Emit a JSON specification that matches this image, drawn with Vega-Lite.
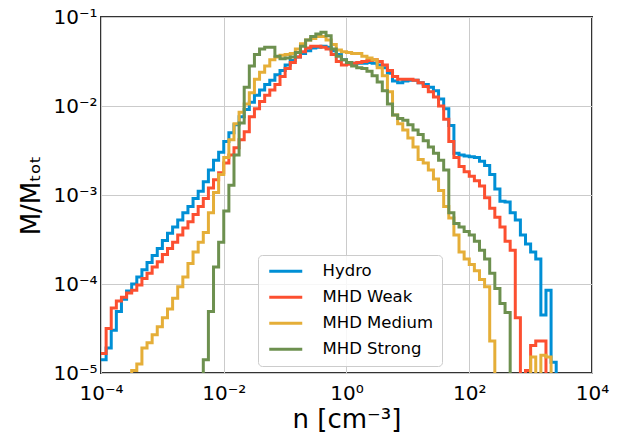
{
"$schema":"https://vega.github.io/schema/vega-lite/v6.json",
"width":491,"height":356,
"autosize":"none",
"padding":{"left":101,"top":17,"right":43,"bottom":66},
"background":"white",
"config":{
 "view":{"stroke":"#333333","strokeWidth":2},
 "axis":{"labelFont":"DejaVu Sans","titleFont":"DejaVu Sans","labelColor":"#000000","titleColor":"#000000","labelFontSize":20,"titleFontSize":26,"titleFontWeight":"normal","ticks":false,"domain":false,"grid":true,"gridColor":"#cbcbcb","gridWidth":1,"labelBound":false,"labelFlush":false,"labelOverlap":false}
},
"data":{"values":[
{"s":"Hydro","x":1e-4,"y":1.41e-5},{"s":"Hydro","x":1.212e-4,"y":1.91e-5},{"s":"Hydro","x":1.468e-4,"y":3.02e-5},{"s":"Hydro","x":1.778e-4,"y":4.90e-5},{"s":"Hydro","x":2.154e-4,"y":6.76e-5},{"s":"Hydro","x":2.61e-4,"y":8.32e-5},{"s":"Hydro","x":3.162e-4,"y":1.0e-4},{"s":"Hydro","x":3.831e-4,"y":1.20e-4},{"s":"Hydro","x":4.642e-4,"y":1.45e-4},{"s":"Hydro","x":5.623e-4,"y":1.74e-4},{"s":"Hydro","x":6.813e-4,"y":2.09e-4},{"s":"Hydro","x":8.254e-4,"y":2.51e-4},
{"s":"Hydro","x":1e-3,"y":3.09e-4},{"s":"Hydro","x":1.212e-3,"y":3.72e-4},{"s":"Hydro","x":1.468e-3,"y":4.37e-4},{"s":"Hydro","x":1.778e-3,"y":5.25e-4},{"s":"Hydro","x":2.154e-3,"y":6.31e-4},{"s":"Hydro","x":2.61e-3,"y":7.41e-4},{"s":"Hydro","x":3.162e-3,"y":9.12e-4},{"s":"Hydro","x":3.831e-3,"y":1.10e-3},{"s":"Hydro","x":4.642e-3,"y":1.41e-3},{"s":"Hydro","x":5.623e-3,"y":1.91e-3},{"s":"Hydro","x":6.813e-3,"y":2.45e-3},{"s":"Hydro","x":8.254e-3,"y":3.02e-3},
{"s":"Hydro","x":0.01,"y":3.98e-3},{"s":"Hydro","x":0.01212,"y":5.01e-3},{"s":"Hydro","x":0.01468,"y":6.17e-3},{"s":"Hydro","x":0.01778,"y":7.59e-3},{"s":"Hydro","x":0.02154,"y":9.12e-3},{"s":"Hydro","x":0.0261,"y":1.10e-2},{"s":"Hydro","x":0.03162,"y":1.32e-2},{"s":"Hydro","x":0.03831,"y":1.51e-2},{"s":"Hydro","x":0.04642,"y":1.74e-2},{"s":"Hydro","x":0.05623,"y":1.95e-2},{"s":"Hydro","x":0.06813,"y":2.24e-2},{"s":"Hydro","x":0.08254,"y":2.51e-2},
{"s":"Hydro","x":0.1,"y":2.88e-2},{"s":"Hydro","x":0.1212,"y":3.24e-2},{"s":"Hydro","x":0.1468,"y":3.55e-2},{"s":"Hydro","x":0.1778,"y":3.89e-2},{"s":"Hydro","x":0.2154,"y":4.17e-2},{"s":"Hydro","x":0.261,"y":4.47e-2},{"s":"Hydro","x":0.3162,"y":4.57e-2},{"s":"Hydro","x":0.3831,"y":4.68e-2},{"s":"Hydro","x":0.4642,"y":4.57e-2},{"s":"Hydro","x":0.5623,"y":4.17e-2},{"s":"Hydro","x":0.6813,"y":3.80e-2},{"s":"Hydro","x":0.8254,"y":3.31e-2},
{"s":"Hydro","x":1,"y":3.09e-2},{"s":"Hydro","x":1.212,"y":3.02e-2},{"s":"Hydro","x":1.468,"y":3.02e-2},{"s":"Hydro","x":1.778,"y":3.02e-2},{"s":"Hydro","x":2.154,"y":3.09e-2},{"s":"Hydro","x":2.61,"y":3.02e-2},{"s":"Hydro","x":3.162,"y":2.88e-2},{"s":"Hydro","x":3.831,"y":2.69e-2},{"s":"Hydro","x":4.642,"y":2.34e-2},{"s":"Hydro","x":5.623,"y":1.91e-2},{"s":"Hydro","x":6.813,"y":1.82e-2},{"s":"Hydro","x":8.254,"y":1.91e-2},
{"s":"Hydro","x":10,"y":1.95e-2},{"s":"Hydro","x":12.12,"y":1.95e-2},{"s":"Hydro","x":14.68,"y":1.82e-2},{"s":"Hydro","x":17.78,"y":1.74e-2},{"s":"Hydro","x":21.54,"y":1.62e-2},{"s":"Hydro","x":26.1,"y":1.48e-2},{"s":"Hydro","x":31.62,"y":1.20e-2},{"s":"Hydro","x":38.31,"y":9.33e-3},{"s":"Hydro","x":46.42,"y":6.03e-3},{"s":"Hydro","x":56.23,"y":2.95e-3},{"s":"Hydro","x":68.13,"y":2.82e-3},{"s":"Hydro","x":82.54,"y":2.75e-3},
{"s":"Hydro","x":100,"y":2.69e-3},{"s":"Hydro","x":121.2,"y":2.63e-3},{"s":"Hydro","x":146.8,"y":2.40e-3},{"s":"Hydro","x":177.8,"y":2.14e-3},{"s":"Hydro","x":215.4,"y":1.70e-3},{"s":"Hydro","x":261,"y":1.17e-3},{"s":"Hydro","x":316.2,"y":8.51e-4},{"s":"Hydro","x":383.1,"y":8.32e-4},{"s":"Hydro","x":464.2,"y":6.31e-4},{"s":"Hydro","x":562.3,"y":5.25e-4},{"s":"Hydro","x":681.3,"y":3.55e-4},{"s":"Hydro","x":825.4,"y":2.82e-4},
{"s":"Hydro","x":1000,"y":2.29e-4},{"s":"Hydro","x":1212,"y":1.91e-4},{"s":"Hydro","x":1468,"y":4.47e-5},{"s":"Hydro","x":1778,"y":8.51e-5},{"s":"Hydro","x":2154,"y":1.32e-5},{"s":"Hydro","x":2610,"y":1e-6},

{"s":"MHD Weak","x":1e-4,"y":1.66e-5},{"s":"MHD Weak","x":1.212e-4,"y":3.16e-5},{"s":"MHD Weak","x":1.468e-4,"y":5.37e-5},{"s":"MHD Weak","x":1.778e-4,"y":6.46e-5},{"s":"MHD Weak","x":2.154e-4,"y":7.08e-5},{"s":"MHD Weak","x":2.61e-4,"y":7.94e-5},{"s":"MHD Weak","x":3.162e-4,"y":8.51e-5},{"s":"MHD Weak","x":3.831e-4,"y":9.77e-5},{"s":"MHD Weak","x":4.642e-4,"y":1.15e-4},{"s":"MHD Weak","x":5.623e-4,"y":1.32e-4},{"s":"MHD Weak","x":6.813e-4,"y":1.55e-4},{"s":"MHD Weak","x":8.254e-4,"y":1.78e-4},
{"s":"MHD Weak","x":1e-3,"y":2.14e-4},{"s":"MHD Weak","x":1.212e-3,"y":2.51e-4},{"s":"MHD Weak","x":1.468e-3,"y":2.95e-4},{"s":"MHD Weak","x":1.778e-3,"y":3.55e-4},{"s":"MHD Weak","x":2.154e-3,"y":4.27e-4},{"s":"MHD Weak","x":2.61e-3,"y":5.01e-4},{"s":"MHD Weak","x":3.162e-3,"y":6.03e-4},{"s":"MHD Weak","x":3.831e-3,"y":7.41e-4},{"s":"MHD Weak","x":4.642e-3,"y":9.12e-4},{"s":"MHD Weak","x":5.623e-3,"y":1.20e-3},{"s":"MHD Weak","x":6.813e-3,"y":1.48e-3},{"s":"MHD Weak","x":8.254e-3,"y":1.78e-3},
{"s":"MHD Weak","x":0.01,"y":2.29e-3},{"s":"MHD Weak","x":0.01212,"y":2.82e-3},{"s":"MHD Weak","x":0.01468,"y":3.39e-3},{"s":"MHD Weak","x":0.01778,"y":4.17e-3},{"s":"MHD Weak","x":0.02154,"y":5.13e-3},{"s":"MHD Weak","x":0.0261,"y":7.59e-3},{"s":"MHD Weak","x":0.03162,"y":9.33e-3},{"s":"MHD Weak","x":0.03831,"y":1.12e-2},{"s":"MHD Weak","x":0.04642,"y":1.32e-2},{"s":"MHD Weak","x":0.05623,"y":1.51e-2},{"s":"MHD Weak","x":0.06813,"y":1.74e-2},{"s":"MHD Weak","x":0.08254,"y":2.14e-2},
{"s":"MHD Weak","x":0.1,"y":2.63e-2},{"s":"MHD Weak","x":0.1212,"y":3.09e-2},{"s":"MHD Weak","x":0.1468,"y":3.55e-2},{"s":"MHD Weak","x":0.1778,"y":4.07e-2},{"s":"MHD Weak","x":0.2154,"y":4.47e-2},{"s":"MHD Weak","x":0.261,"y":4.68e-2},{"s":"MHD Weak","x":0.3162,"y":4.68e-2},{"s":"MHD Weak","x":0.3831,"y":4.57e-2},{"s":"MHD Weak","x":0.4642,"y":4.37e-2},{"s":"MHD Weak","x":0.5623,"y":3.80e-2},{"s":"MHD Weak","x":0.6813,"y":3.16e-2},{"s":"MHD Weak","x":0.8254,"y":2.88e-2},
{"s":"MHD Weak","x":1,"y":2.95e-2},{"s":"MHD Weak","x":1.212,"y":3.02e-2},{"s":"MHD Weak","x":1.468,"y":3.09e-2},{"s":"MHD Weak","x":1.778,"y":3.16e-2},{"s":"MHD Weak","x":2.154,"y":3.24e-2},{"s":"MHD Weak","x":2.61,"y":3.31e-2},{"s":"MHD Weak","x":3.162,"y":3.16e-2},{"s":"MHD Weak","x":3.831,"y":2.88e-2},{"s":"MHD Weak","x":4.642,"y":2.51e-2},{"s":"MHD Weak","x":5.623,"y":2.14e-2},{"s":"MHD Weak","x":6.813,"y":2.00e-2},{"s":"MHD Weak","x":8.254,"y":2.00e-2},
{"s":"MHD Weak","x":10,"y":2.00e-2},{"s":"MHD Weak","x":12.12,"y":1.95e-2},{"s":"MHD Weak","x":14.68,"y":1.82e-2},{"s":"MHD Weak","x":17.78,"y":1.66e-2},{"s":"MHD Weak","x":21.54,"y":1.45e-2},{"s":"MHD Weak","x":26.1,"y":1.26e-2},{"s":"MHD Weak","x":31.62,"y":1.00e-2},{"s":"MHD Weak","x":38.31,"y":7.08e-3},{"s":"MHD Weak","x":46.42,"y":3.98e-3},{"s":"MHD Weak","x":56.23,"y":2.63e-3},{"s":"MHD Weak","x":68.13,"y":2.09e-3},{"s":"MHD Weak","x":82.54,"y":1.82e-3},
{"s":"MHD Weak","x":100,"y":1.62e-3},{"s":"MHD Weak","x":121.2,"y":1.45e-3},{"s":"MHD Weak","x":146.8,"y":1.26e-3},{"s":"MHD Weak","x":177.8,"y":9.33e-4},{"s":"MHD Weak","x":215.4,"y":7.08e-4},{"s":"MHD Weak","x":261,"y":5.62e-4},{"s":"MHD Weak","x":316.2,"y":4.37e-4},{"s":"MHD Weak","x":383.1,"y":3.02e-4},{"s":"MHD Weak","x":464.2,"y":2.40e-4},{"s":"MHD Weak","x":562.3,"y":4.17e-5},{"s":"MHD Weak","x":681.3,"y":1e-6},{"s":"MHD Weak","x":825.4,"y":1.07e-5},
{"s":"MHD Weak","x":1000,"y":2.04e-5},{"s":"MHD Weak","x":1212,"y":2.29e-5},{"s":"MHD Weak","x":1468,"y":2.29e-5},{"s":"MHD Weak","x":1778,"y":1e-6},

{"s":"MHD Medium","x":2.61e-4,"y":1e-6},{"s":"MHD Medium","x":3.162e-4,"y":1.07e-5},{"s":"MHD Medium","x":3.831e-4,"y":1.26e-5},{"s":"MHD Medium","x":4.642e-4,"y":1.91e-5},{"s":"MHD Medium","x":5.623e-4,"y":2.19e-5},{"s":"MHD Medium","x":6.813e-4,"y":2.69e-5},{"s":"MHD Medium","x":8.254e-4,"y":3.31e-5},
{"s":"MHD Medium","x":1e-3,"y":4.17e-5},{"s":"MHD Medium","x":1.212e-3,"y":5.25e-5},{"s":"MHD Medium","x":1.468e-3,"y":6.92e-5},{"s":"MHD Medium","x":1.778e-3,"y":9.33e-5},{"s":"MHD Medium","x":2.154e-3,"y":1.20e-4},{"s":"MHD Medium","x":2.61e-3,"y":1.70e-4},{"s":"MHD Medium","x":3.162e-3,"y":2.29e-4},{"s":"MHD Medium","x":3.831e-3,"y":2.95e-4},{"s":"MHD Medium","x":4.642e-3,"y":3.80e-4},{"s":"MHD Medium","x":5.623e-3,"y":6.31e-4},{"s":"MHD Medium","x":6.813e-3,"y":1.07e-3},{"s":"MHD Medium","x":8.254e-3,"y":1.70e-3},
{"s":"MHD Medium","x":0.01,"y":2.63e-3},{"s":"MHD Medium","x":0.01212,"y":4.17e-3},{"s":"MHD Medium","x":0.01468,"y":6.31e-3},{"s":"MHD Medium","x":0.01778,"y":8.51e-3},{"s":"MHD Medium","x":0.02154,"y":1.05e-2},{"s":"MHD Medium","x":0.0261,"y":1.41e-2},{"s":"MHD Medium","x":0.03162,"y":2.00e-2},{"s":"MHD Medium","x":0.03831,"y":2.40e-2},{"s":"MHD Medium","x":0.04642,"y":2.82e-2},{"s":"MHD Medium","x":0.05623,"y":3.31e-2},{"s":"MHD Medium","x":0.06813,"y":3.55e-2},{"s":"MHD Medium","x":0.08254,"y":3.72e-2},
{"s":"MHD Medium","x":0.1,"y":3.80e-2},{"s":"MHD Medium","x":0.1212,"y":3.89e-2},{"s":"MHD Medium","x":0.1468,"y":4.37e-2},{"s":"MHD Medium","x":0.1778,"y":5.01e-2},{"s":"MHD Medium","x":0.2154,"y":5.50e-2},{"s":"MHD Medium","x":0.261,"y":5.75e-2},{"s":"MHD Medium","x":0.3162,"y":6.03e-2},{"s":"MHD Medium","x":0.3831,"y":6.03e-2},{"s":"MHD Medium","x":0.4642,"y":5.50e-2},{"s":"MHD Medium","x":0.5623,"y":4.90e-2},{"s":"MHD Medium","x":0.6813,"y":4.27e-2},{"s":"MHD Medium","x":0.8254,"y":4.07e-2},
{"s":"MHD Medium","x":1,"y":3.98e-2},{"s":"MHD Medium","x":1.212,"y":3.89e-2},{"s":"MHD Medium","x":1.468,"y":3.89e-2},{"s":"MHD Medium","x":1.778,"y":3.63e-2},{"s":"MHD Medium","x":2.154,"y":3.47e-2},{"s":"MHD Medium","x":2.61,"y":3.31e-2},{"s":"MHD Medium","x":3.162,"y":2.69e-2},{"s":"MHD Medium","x":3.831,"y":2.19e-2},{"s":"MHD Medium","x":4.642,"y":1.45e-2},{"s":"MHD Medium","x":5.623,"y":7.94e-3},{"s":"MHD Medium","x":6.813,"y":6.31e-3},{"s":"MHD Medium","x":8.254,"y":5.37e-3},
{"s":"MHD Medium","x":10,"y":4.37e-3},{"s":"MHD Medium","x":12.12,"y":3.47e-3},{"s":"MHD Medium","x":14.68,"y":2.51e-3},{"s":"MHD Medium","x":17.78,"y":2.29e-3},{"s":"MHD Medium","x":21.54,"y":1.91e-3},{"s":"MHD Medium","x":26.1,"y":1.51e-3},{"s":"MHD Medium","x":31.62,"y":1.12e-3},{"s":"MHD Medium","x":38.31,"y":7.41e-4},{"s":"MHD Medium","x":46.42,"y":5.50e-4},{"s":"MHD Medium","x":56.23,"y":3.55e-4},{"s":"MHD Medium","x":68.13,"y":2.29e-4},{"s":"MHD Medium","x":82.54,"y":1.91e-4},
{"s":"MHD Medium","x":100,"y":1.66e-4},{"s":"MHD Medium","x":121.2,"y":1.41e-4},{"s":"MHD Medium","x":146.8,"y":1.12e-4},{"s":"MHD Medium","x":177.8,"y":9.33e-5},{"s":"MHD Medium","x":215.4,"y":2.29e-5},{"s":"MHD Medium","x":261,"y":1e-6},
{"s":"MHD Medium","x":1000,"y":1.51e-5},{"s":"MHD Medium","x":1212,"y":1e-6},{"s":"MHD Medium","x":1468,"y":1.58e-5},{"s":"MHD Medium","x":1778,"y":1.51e-5},{"s":"MHD Medium","x":2154,"y":1e-6},

{"s":"MHD Strong","x":3.831e-3,"y":1e-6},{"s":"MHD Strong","x":4.642e-3,"y":1.41e-5},{"s":"MHD Strong","x":5.623e-3,"y":4.90e-5},{"s":"MHD Strong","x":6.813e-3,"y":1.55e-4},{"s":"MHD Strong","x":8.254e-3,"y":2.95e-4},
{"s":"MHD Strong","x":0.01,"y":6.61e-4},{"s":"MHD Strong","x":0.01212,"y":1.29e-3},{"s":"MHD Strong","x":0.01468,"y":2.82e-3},{"s":"MHD Strong","x":0.01778,"y":6.46e-3},{"s":"MHD Strong","x":0.02154,"y":1.62e-2},{"s":"MHD Strong","x":0.0261,"y":2.82e-2},{"s":"MHD Strong","x":0.03162,"y":3.80e-2},{"s":"MHD Strong","x":0.03831,"y":4.37e-2},{"s":"MHD Strong","x":0.04642,"y":4.57e-2},{"s":"MHD Strong","x":0.05623,"y":4.57e-2},{"s":"MHD Strong","x":0.06813,"y":3.63e-2},{"s":"MHD Strong","x":0.08254,"y":3.39e-2},
{"s":"MHD Strong","x":0.1,"y":3.47e-2},{"s":"MHD Strong","x":0.1212,"y":3.55e-2},{"s":"MHD Strong","x":0.1468,"y":3.98e-2},{"s":"MHD Strong","x":0.1778,"y":4.68e-2},{"s":"MHD Strong","x":0.2154,"y":5.50e-2},{"s":"MHD Strong","x":0.261,"y":6.03e-2},{"s":"MHD Strong","x":0.3162,"y":6.46e-2},{"s":"MHD Strong","x":0.3831,"y":6.76e-2},{"s":"MHD Strong","x":0.4642,"y":6.17e-2},{"s":"MHD Strong","x":0.5623,"y":4.37e-2},{"s":"MHD Strong","x":0.6813,"y":3.63e-2},{"s":"MHD Strong","x":0.8254,"y":3.31e-2},
{"s":"MHD Strong","x":1,"y":3.09e-2},{"s":"MHD Strong","x":1.212,"y":2.82e-2},{"s":"MHD Strong","x":1.468,"y":2.69e-2},{"s":"MHD Strong","x":1.778,"y":2.63e-2},{"s":"MHD Strong","x":2.154,"y":2.45e-2},{"s":"MHD Strong","x":2.61,"y":2.19e-2},{"s":"MHD Strong","x":3.162,"y":1.86e-2},{"s":"MHD Strong","x":3.831,"y":1.48e-2},{"s":"MHD Strong","x":4.642,"y":1.05e-2},{"s":"MHD Strong","x":5.623,"y":7.94e-3},{"s":"MHD Strong","x":6.813,"y":7.24e-3},{"s":"MHD Strong","x":8.254,"y":6.92e-3},
{"s":"MHD Strong","x":10,"y":6.17e-3},{"s":"MHD Strong","x":12.12,"y":5.37e-3},{"s":"MHD Strong","x":14.68,"y":4.79e-3},{"s":"MHD Strong","x":17.78,"y":4.07e-3},{"s":"MHD Strong","x":21.54,"y":3.47e-3},{"s":"MHD Strong","x":26.1,"y":2.95e-3},{"s":"MHD Strong","x":31.62,"y":2.45e-3},{"s":"MHD Strong","x":38.31,"y":1.91e-3},{"s":"MHD Strong","x":46.42,"y":6.31e-4},{"s":"MHD Strong","x":56.23,"y":4.79e-4},{"s":"MHD Strong","x":68.13,"y":4.37e-4},{"s":"MHD Strong","x":82.54,"y":3.89e-4},
{"s":"MHD Strong","x":100,"y":3.55e-4},{"s":"MHD Strong","x":121.2,"y":3.02e-4},{"s":"MHD Strong","x":146.8,"y":2.40e-4},{"s":"MHD Strong","x":177.8,"y":1.91e-4},{"s":"MHD Strong","x":215.4,"y":1.32e-4},{"s":"MHD Strong","x":261,"y":8.91e-5},{"s":"MHD Strong","x":316.2,"y":6.03e-5},{"s":"MHD Strong","x":383.1,"y":4.79e-5},{"s":"MHD Strong","x":464.2,"y":1e-6}
]},
"mark":{"type":"line","interpolate":"step-after","strokeWidth":3,"clip":true},
"encoding":{
 "x":{"field":"x","type":"quantitative","scale":{"type":"log","domain":[1e-4,1e4],"nice":false},
  "axis":{"values":[1e-4,1e-2,1,100,1e4],"title":"n [cm⁻³]","labelPadding":10,"titlePadding":3,
   "labelExpr":"'10' + ['⁻⁴','⁻³','⁻²','⁻¹','⁰','¹','²','³','⁴'][round(log(datum.value)/LN10)+4]"}},
 "y":{"field":"y","type":"quantitative","scale":{"type":"log","domain":[1e-5,1e-1],"nice":false},
  "axis":{"values":[1e-5,1e-4,1e-3,1e-2,1e-1],"title":"M/Mₜₒₜ","labelPadding":4,"titlePadding":8,
   "labelExpr":"'10' + ['⁻⁵','⁻⁴','⁻³','⁻²','⁻¹'][round(log(datum.value)/LN10)+5]"}},
 "color":{"field":"s","type":"nominal","scale":{"domain":["Hydro","MHD Weak","MHD Medium","MHD Strong"],"range":["#008fd5","#fc4f30","#e5ae38","#6d904f"]},
  "legend":{"title":null,"orient":"none","legendX":157,"legendY":238,"fillColor":"rgba(255,255,255,0.85)","strokeColor":"#cccccc","cornerRadius":4,"padding":8,"labelFont":"DejaVu Sans","labelFontSize":16.5,"labelColor":"#000000","symbolType":"M-1,0H5.6","symbolStrokeWidth":3,"symbolSize":100,"labelOffset":40,"rowPadding":9}}
}
}
